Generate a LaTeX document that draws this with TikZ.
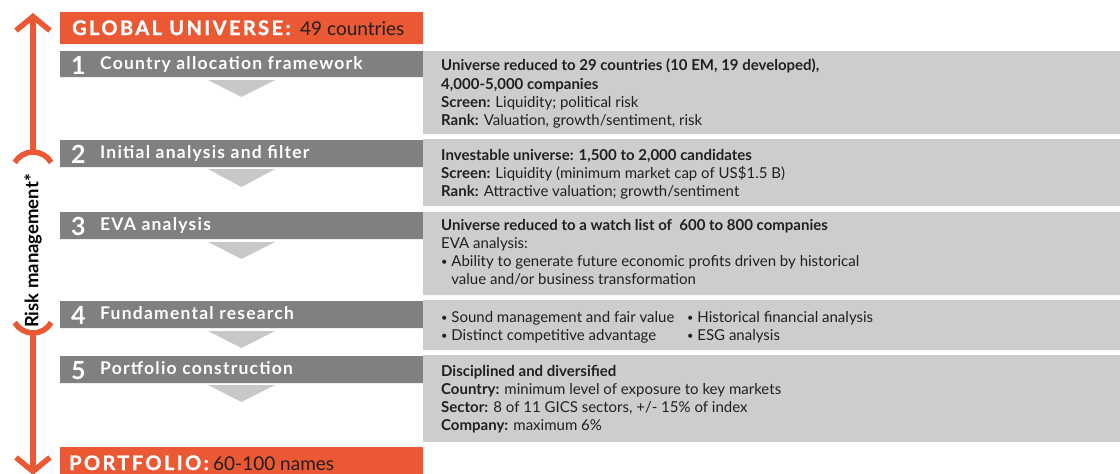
\documentclass[tikz,border=0pt]{standalone}
\usepackage{fontspec}
\setmainfont{Lato}
\usetikzlibrary{arrows.meta,positioning}
\definecolor{vnorange}{RGB}{235,88,52}
\definecolor{stepgray}{RGB}{128,128,128}
\definecolor{boxgray}{RGB}{205,205,205}
\definecolor{trigray}{RGB}{200,200,200}
\definecolor{inkgray}{RGB}{35,31,32}
\newcommand{\headfont}{\bfseries\fontsize{20}{20}\selectfont\addfontfeature{LetterSpace=12,FakeBold=1.2}}
\newcommand{\itemdot}{\raisebox{1pt}{\fontsize{11}{11}\selectfont\textbullet}}
\tikzset{
  headtext/.style={anchor=base west, inner sep=0, text=white, font=\headfont},
  headcount/.style={anchor=base west, inner sep=0, text=inkgray, font=\fontsize{19}{19}\selectfont},
  stepnum/.style={anchor=base west, inner sep=0, text=white, font=\bfseries\fontsize{25}{25}\selectfont},
  steptitle/.style={anchor=base west, inner sep=0, text=white, font=\bfseries\fontsize{17.5}{17.5}\selectfont\addfontfeature{LetterSpace=7}},
  stepinfo/.style={anchor=north west, inner sep=0, align=left, text=inkgray, font=\fontsize{15}{18.2}\selectfont},
  riskline/.style={draw=vnorange, line width=5.5pt},
  risktip/.style={-{Straight Barb[length=14pt,width=34pt]}}
}
\begin{document}
\begin{tikzpicture}[x=1pt, y=-1pt]
      \useasboundingbox (0,0) rectangle (1120,474);
      % orange head and foot bars
      \fill[vnorange] (60,12) rectangle (423,44)
                      (60,447) rectangle (423,474);
      \node (universe) [headtext] at (72,35) {GLOBAL UNIVERSE:};
      \node (univcount) [headcount] at (300,35) {49 countries};
      \node (portfolio) [headtext] at (69,470) {PORTFOLIO:};
      \node (portcount) [headcount] at (213,470) {60-100 names};
      % step bars
      \fill[stepgray] (60,51) rectangle (423,77)
                      (60,140) rectangle (423,167)
                      (60,212) rectangle (423,239)
                      (60,301) rectangle (423,328)
                      (60,356) rectangle (423,383);
      \fill[boxgray] (423,51) rectangle (1120,134)
                     (423,139) rectangle (1120,206)
                     (423,212) rectangle (1120,295)
                     (423,300) rectangle (1120,350)
                     (423,355) rectangle (1120,442);
      \fill[trigray] (208,80) -- (275,80) -- (241.5,97) -- cycle
                     (208,169) -- (275,169) -- (241.5,187) -- cycle
                     (208,242) -- (275,242) -- (241.5,259) -- cycle
                     (208,331) -- (275,331) -- (241.5,348) -- cycle
                     (208,385) -- (275,385) -- (241.5,402) -- cycle;
      \node (n1) [stepnum] at (71,74) {1};
      \node (s1) [steptitle] at (100,69) {Country allocation framework};
      \node (n2) [stepnum] at (71,163) {2};
      \node (s2) [steptitle] at (100,158) {Initial analysis and filter};
      \node (n3) [stepnum] at (71,235) {3};
      \node (s3) [steptitle] at (100,230) {EVA analysis};
      \node (n4) [stepnum] at (71,324) {4};
      \node (s4) [steptitle] at (100,319) {Fundamental research};
      \node (n5) [stepnum] at (71,379) {5};
      \node (s5) [steptitle] at (100,374) {Portfolio construction};
      % what each step does
      \node (d1) [stepinfo] at (441,59) {\textbf{Universe reduced to 29 countries (10 EM, 19 developed),}\\
            \textbf{4,000-5,000 companies}\\
            \textbf{Screen:} Liquidity; political risk\\
            \textbf{Rank:} Valuation, growth/sentiment, risk};
      \node (d2) [stepinfo] at (441,149) {\textbf{Investable universe: 1,500 to 2,000 candidates}\\
            \textbf{Screen:} Liquidity (minimum market cap of US\$1.5 B)\\
            \textbf{Rank:} Attractive valuation; growth/sentiment};
      \node (d3) [stepinfo] at (441,219) {\textbf{Universe reduced to a watch list of\ \ 600 to 800 companies}\\
            EVA analysis:\\
            \itemdot\ Ability to generate future economic profits driven by historical\\
            \hphantom{\itemdot}\ value and/or business transformation};
      \node (d4) [stepinfo] at (441,311) {\itemdot\ Sound management and fair value\\
            \itemdot\ Distinct competitive advantage};
      \node (d4b) [stepinfo] at (687,311) {\itemdot\ Historical financial analysis\\
            \itemdot\ ESG analysis};
      \node (d5) [stepinfo] at (441,365) {\textbf{Disciplined and diversified}\\
            \textbf{Country:} minimum level of exposure to key markets\\
            \textbf{Sector:} 8 of 11 GICS sectors, +/- 15\% of index\\
            \textbf{Company:} maximum 6\%};
      % risk management arrow
      \coordinate (risktop) at (33,13);
      \coordinate (riskbot) at (33,475);
      \coordinate (bracehi) at (33,152);
      \coordinate (bracelo) at (33,333);
      \node (risk) [rotate=90, inner sep=0, text=black, font=\bfseries\fontsize{18.5}{18.5}\selectfont] at (33,251) {Risk management*};
      \draw[riskline, risktip] (bracehi) -- (risktop);
      \draw[riskline, risktip] (bracelo) -- (riskbot);
      \draw[riskline] (bracehi) arc[start angle=270, end angle=210, radius=21]
                      (bracehi) arc[start angle=270, end angle=330, radius=21]
                      (bracelo) arc[start angle=90, end angle=150, radius=21]
                      (bracelo) arc[start angle=90, end angle=30, radius=21];
\end{tikzpicture}
\end{document}
